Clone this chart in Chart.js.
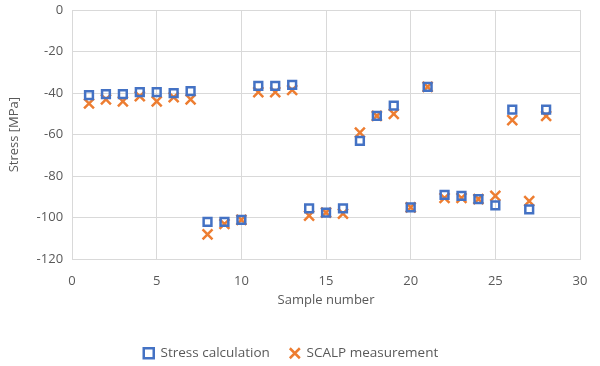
<!DOCTYPE html>
<html>
<head>
<meta charset="utf-8">
<script src="https://cdn.jsdelivr.net/npm/chart.js@4"></script>
<style>
  html, body { margin: 0; padding: 0; background: #fff; }
  #wrap { width: 600px; height: 366px; }
</style>
</head>
<body>
<div id="wrap"><canvas id="chart"></canvas></div>
<script>
var samples = [1, 2, 3, 4, 5, 6, 7, 8, 9, 10, 11, 12, 13, 14, 15, 16, 17, 18, 19, 20, 21, 22, 23, 24, 25, 26, 27, 28];
var stressCalc = [-41, -40.5, -40.5, -39.5, -39.5, -40, -39, -102, -102, -101, -36.5, -36.5, -36, -95.5, -97.5, -95.5, -63, -51, -46, -95, -37, -89, -89.5, -91, -94, -48, -96, -48];
var scalpMeas = [-45, -43, -44, -41.5, -44, -42, -43, -108, -103, -101, -39.5, -39.5, -38.5, -99, -97.5, -98, -59, -51, -50, -95, -37, -90.5, -90.5, -91, -89.5, -53, -92, -51];

function toPoints(values) {
  return values.map(function (v, i) {
    return { x: samples[i], y: v };
  });
}

var grey = '#595959';
var gridColor = '#d9d9d9';
var font = { family: 'Open Sans', size: 13 };

new Chart(document.getElementById('chart'), {
  type: 'scatter',
  data: {
    datasets: [{
      label: 'Stress calculation',
      data: toPoints(stressCalc),
      pointStyle: 'rect',
      pointRadius: 5.5,
      pointBorderWidth: 2.5,
      borderColor: '#4472c4',
      backgroundColor: 'rgba(255,255,255,0)'
    }, {
      label: 'SCALP measurement',
      data: toPoints(scalpMeas),
      pointStyle: 'crossRot',
      pointRadius: 7,
      pointBorderWidth: 2.5,
      borderColor: '#ed7d31',
      backgroundColor: '#ed7d31'
    }]
  },
  options: {
    responsive: true,
    maintainAspectRatio: false,
    animation: false,
    layout: { autoPadding: false, padding: { left: 2, right: 20, top: 10, bottom: -4 } },
    plugins: {
      legend: {
        position: 'bottom',
        labels: {
          usePointStyle: true,
          boxWidth: 10,
          boxHeight: 10,
          padding: 20,
          color: grey,
          font: { family: 'Open Sans', size: 13.5 }
        }
      },
      tooltip: { enabled: false }
    },
    scales: {
      x: {
        type: 'linear',
        min: 0,
        max: 30,
        afterFit: function (scale) {
          scale.paddingLeft = 0;
          scale.paddingRight = 0;
        },
        ticks: { stepSize: 5, color: grey, font: font, padding: 14 },
        grid: { color: gridColor, drawTicks: false },
        border: { color: gridColor },
        title: { display: true, text: 'Sample number', color: grey, font: font, padding: { top: -10, bottom: 18 } }
      },
      y: {
        min: -120,
        max: 0,
        afterFit: function (scale) {
          scale.paddingTop = 0;
          scale.paddingBottom = 0;
        },
        ticks: { stepSize: 20, color: grey, font: font, padding: 9 },
        grid: { color: gridColor, drawTicks: false },
        border: { color: gridColor },
        title: { display: true, text: 'Stress [MPa]', color: grey, font: font, padding: { bottom: 6 } }
      }
    }
  }
});
</script>
</body>
</html>
